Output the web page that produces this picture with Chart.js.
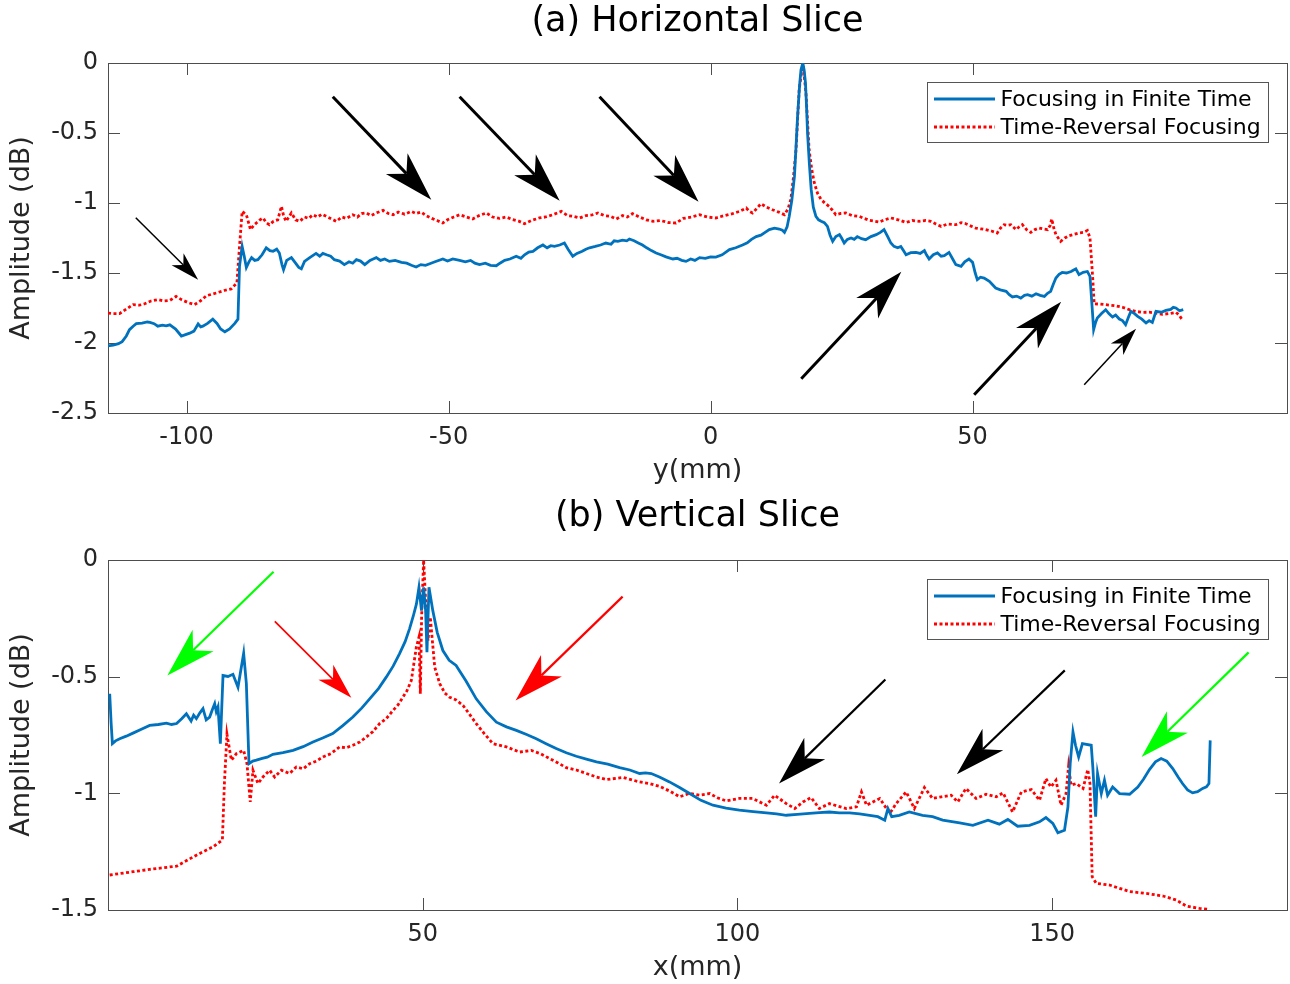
<!DOCTYPE html>
<html>
<head>
<meta charset="utf-8">
<title>Horizontal and vertical slices</title>
<script src="https://cdn.jsdelivr.net/npm/chart.js@4/dist/chart.umd.min.js"></script>
<style>
  html, body { margin: 0; padding: 0; background: #fff; overflow: hidden; }
  #wrap { position: relative; width: 1290px; height: 984px; }
  .panel { position: absolute; left: 0; width: 1290px; height: 492px; }
</style>
</head>
<body>
<div id="wrap">
  <div class="panel" style="top:0"><canvas id="hslice"></canvas></div>
  <div class="panel" style="top:492px"><canvas id="vslice"></canvas></div>
</div>
<script>
const FONT = "'DejaVu Sans', 'Liberation Sans', sans-serif";

const seriesNames = ['Focusing in Finite Time', 'Time-Reversal Focusing'];

// (a) horizontal slice, position y in mm
const hTicksX = [-100, -50, 0, 50];
const hTicksY = [-2.5, -2, -1.5, -1, -0.5, 0];

const hFiniteY = [-115, -114, -113, -112.3, -111.5, -110.9, -110.2, -109.6, -108.5, -107.5, -107, -106.2, -105.5, -104.6,
  -103.9, -103.2, -102.1, -101, -100.2, -99.4, -98.6, -97.8, -97.3, -96.9, -96, -95, -94.2, -93.5, -92.7, -91.8, -90.8,
  -90.2, -89.9, -89.4, -89, -88.6, -88.1, -87.6, -87, -86.4, -85.6, -84.8, -84.1, -83.5, -82.8, -82.3, -81.8, -81.5,
  -80.9, -80, -79.2, -78.6, -78.1, -77.5, -76.5, -75.3, -74.6, -74, -73.3, -72.5, -71.8, -70.8, -69.9, -69, -68.3, -67.6,
  -66.8, -66, -65, -64.4, -63.8, -63, -62.2, -61.3, -60.2, -59, -58, -57.1, -56.2, -55.3, -54.4, -53.6, -52.6, -51.1,
  -50.2, -49.2, -47.9, -46.8, -45.8, -45, -44.1, -43, -42, -40.9, -40.2, -39.3, -38.3, -37.1, -36.2, -35.5, -34.7,
  -33.9, -33, -32, -31.2, -30.5, -29.8, -28.8, -27.9, -27.2, -26.3, -25.5, -24.5, -23.8, -23.1, -22, -21, -20, -19,
  -18.4, -17.7, -16.8, -16, -15.5, -14.6, -13.8, -13, -12.2, -11.3, -10.4, -9.5, -8.5, -7.2, -6.4, -5.5, -4.7, -3.8,
  -3, -2.1, -1, 0, 1, 2.2, 3.6, 4.8, 6.1, 7, 7.8, 8.7, 9.6, 10.4, 11.2, 12.2, 13.1, 13.7, 14.1, 14.6, 15, 15.5, 16,
  16.3, 16.6, 17, 17.25, 17.6, 17.85, 18.1, 18.3, 18.5, 18.85, 19.2, 19.6, 20.1, 20.6, 21.1, 21.7, 22.3, 22.8, 23.3,
  23.9, 24.6, 25, 25.5, 26.1, 26.8, 27.4, 28, 28.8, 29.6, 30.6, 31.6, 32.4, 33.1, 33.8, 34.4, 35, 35.7, 36.3, 36.8,
  37.3, 38.2, 39.2, 40, 40.8, 41.2, 41.7, 42.5, 43.3, 44, 44.6, 45.5, 46.2, 46.8, 47.8, 48.5, 49.3, 50, 50.5, 50.9,
  51.5, 52.2, 53.2, 54.4, 55.3, 56.4, 57, 57.6, 58.4, 59.2, 59.9, 60.5, 61.3, 62.1, 62.9, 63.7, 64.3, 64.9, 65.4,
  65.9, 66.5, 67.1, 67.9, 68.8, 69.2, 69.7, 70.3, 71.1, 71.9, 72.4, 72.8, 73.1, 73.5, 73.8, 74.6, 75.4, 76, 76.7,
  77.3, 78, 78.6, 79.2, 79.7, 80.2, 80.9, 81.5, 82.3, 83.1, 83.7, 84.3, 85, 86, 86.9, 87.8, 88.3, 88.8, 89.5, 90.2];
const hFiniteAmp = [-2.02, -2.015, -2.005, -1.99, -1.95, -1.905, -1.88, -1.862, -1.858, -1.85, -1.853, -1.862, -1.88, -1.872,
  -1.878, -1.87, -1.9, -1.95, -1.94, -1.93, -1.915, -1.864, -1.885, -1.88, -1.86, -1.83, -1.86, -1.9, -1.92, -1.9, -1.86,
  -1.83, -1.45, -1.31, -1.38, -1.46, -1.42, -1.39, -1.41, -1.405, -1.37, -1.32, -1.34, -1.345, -1.33, -1.357, -1.44, -1.476,
  -1.41, -1.39, -1.43, -1.46, -1.47, -1.417, -1.39, -1.36, -1.38, -1.36, -1.37, -1.38, -1.405, -1.415, -1.44, -1.42, -1.43, -1.405,
  -1.415, -1.44, -1.41, -1.4, -1.39, -1.41, -1.4, -1.417, -1.41, -1.424, -1.43, -1.445, -1.457, -1.44, -1.445, -1.434, -1.42, -1.4,
  -1.415, -1.4, -1.41, -1.42, -1.41, -1.43, -1.44, -1.43, -1.445, -1.448, -1.43, -1.41, -1.4, -1.38, -1.395, -1.37, -1.35,
  -1.345, -1.32, -1.3, -1.32, -1.305, -1.31, -1.3, -1.286, -1.33, -1.38, -1.36, -1.345, -1.33, -1.32, -1.31, -1.3, -1.286, -1.295,
  -1.27, -1.274, -1.265, -1.27, -1.257, -1.27, -1.285, -1.3, -1.32, -1.34, -1.357, -1.37, -1.385, -1.4, -1.395, -1.41, -1.417, -1.4,
  -1.41, -1.39, -1.395, -1.385, -1.386, -1.37, -1.333, -1.32, -1.3, -1.285, -1.26, -1.24, -1.23, -1.21, -1.19, -1.18, -1.186, -1.195, -1.21, -1.17, -1.096, -0.98, -0.81,
  -0.6, -0.38, -0.15, -0.048, 0, -0.05, -0.14, -0.3, -0.5, -0.72, -0.905, -1.03, -1.096, -1.12, -1.13, -1.14, -1.167, -1.23, -1.274,
  -1.24, -1.226, -1.25, -1.286, -1.26, -1.25, -1.26, -1.24, -1.255, -1.262, -1.24, -1.226, -1.21, -1.19, -1.24, -1.286, -1.31, -1.32, -1.31, -1.34,
  -1.37, -1.355, -1.353, -1.36, -1.34, -1.37, -1.4, -1.37, -1.357, -1.38, -1.376, -1.353, -1.4, -1.44, -1.453, -1.42, -1.4, -1.424, -1.5, -1.548,
  -1.53, -1.536, -1.56, -1.607, -1.62, -1.631, -1.655, -1.671, -1.665, -1.679, -1.66, -1.655, -1.665, -1.648, -1.66, -1.667, -1.645, -1.631, -1.58,
  -1.536, -1.51, -1.496, -1.5, -1.489, -1.48, -1.471, -1.512, -1.495, -1.489, -1.524, -1.739, -1.905, -1.85, -1.821, -1.79, -1.762, -1.79, -1.814,
  -1.8, -1.829, -1.84, -1.869, -1.82, -1.774, -1.79, -1.81, -1.83, -1.857, -1.84, -1.853, -1.774, -1.78, -1.767, -1.76, -1.745, -1.75, -1.77, -1.762];

const hReversalY = [-115, -114, -112.8, -111.6, -110.2, -109, -108, -106.8, -105.5, -104.3, -103.2, -102, -101, -99.8, -98.5,
  -97.4, -96.2, -95, -94, -92.8, -91.5, -90.4, -89.9, -89.4, -88.6, -87.8, -87.2, -86.7, -86, -85.4, -84.8, -84.2, -83.4,
  -82.6, -81.9, -81.5, -81, -80.5, -80, -79.2, -78.4, -77.5, -76.7, -75.9, -75, -74.2, -73.3, -72.3, -71.4, -70.4, -69.5,
  -68.3, -67.4, -66.6, -65.7, -64.8, -63.7, -62.5, -61.5, -60.6, -59.6, -58.4, -57.1, -56.2, -55.2, -54.3, -53.2, -52.2,
  -51.1, -50.2, -49, -47.9, -46.6, -45.4, -44.2, -42.8, -41.6, -40.3, -39, -37.8, -36.6, -35.5, -34.2, -32.7, -31.5,
  -30.2, -28.5, -27.3, -26.2, -25, -23.8, -22.6, -21.5, -20.3, -19.1, -18, -16.8, -15.9, -14.9, -13.6, -12.3, -11, -9.6,
  -8, -6.6, -5.2, -3.6, -2.1, -0.6, 1, 2.6, 4.2, 5.5, 6.8, 7.4, 8, 8.8, 9.6, 10.7, 11.8, 13, 14.1, 14.8, 15.3, 15.8,
  16.3, 16.9, 17.6, 18.2, 18.8, 19.3, 19.8, 20.4, 21.1, 21.8, 22.6, 23.2, 23.9, 24.8, 25.8, 27, 28.4, 29.3, 30.3, 31.2,
  32.2, 33.2, 34.4, 35.8, 37.3, 38.5, 39.8, 41, 42, 43, 44, 45.3, 46.8, 47.8, 48.7, 49.7, 50.6, 51.6, 52.5, 53.6, 54.7,
  55.3, 56, 56.7, 57.3, 58.3, 58.9, 59.5, 60.3, 61.1, 61.9, 62.7, 63.5, 64.3, 64.8, 65.1, 65.5, 65.9, 66.8, 67.6, 68.4,
  69.3, 70.3, 71.1, 71.9, 72.4, 72.9, 73.2, 74.3, 75.4, 76.3, 77.3, 78.6, 79.9, 81.2, 82.4, 83.7, 85, 86.2, 87.5, 88.8,
  89.4, 89.9];
const hReversalAmp = [-1.786, -1.79, -1.79, -1.76, -1.726, -1.73, -1.72, -1.7, -1.69, -1.7, -1.696, -1.667, -1.69, -1.71, -1.726,
  -1.7, -1.662, -1.65, -1.639, -1.625, -1.614, -1.571, -1.31, -1.06, -1.084, -1.19, -1.16, -1.143, -1.12, -1.107, -1.14, -1.155, -1.13,
  -1.12, -1.024, -1.09, -1.131, -1.1, -1.071, -1.12, -1.131, -1.1, -1.11, -1.084, -1.1, -1.08, -1.096, -1.115, -1.131, -1.1, -1.11,
  -1.084, -1.1, -1.075, -1.071, -1.09, -1.07, -1.053, -1.075, -1.084, -1.065, -1.08, -1.06, -1.075, -1.065, -1.09, -1.11, -1.125,
  -1.143, -1.12, -1.1, -1.084, -1.1, -1.114, -1.09, -1.071, -1.1, -1.11, -1.1, -1.119, -1.13, -1.148, -1.125, -1.107, -1.1,
  -1.085, -1.06, -1.09, -1.095, -1.107, -1.09, -1.085, -1.071, -1.09, -1.095, -1.114, -1.09, -1.1, -1.076, -1.1, -1.12, -1.131, -1.125,
  -1.14, -1.143, -1.11, -1.1, -1.084, -1.1, -1.107, -1.09, -1.076, -1.06, -1.036, -1.06, -1.071, -1.04, -1.005, -1.03, -1.048, -1.065, -1.084, -1.04, -0.976, -0.82,
  -0.62, -0.19, 0, -0.214, -0.62, -0.76, -0.857, -0.93, -0.976, -1.0, -1.024, -1.05, -1.084, -1.075, -1.071, -1.09, -1.096, -1.11, -1.124, -1.13,
  -1.137, -1.12, -1.107, -1.12, -1.139, -1.125, -1.131, -1.125, -1.131, -1.15, -1.167, -1.15, -1.155, -1.14, -1.148, -1.165, -1.179, -1.185, -1.19, -1.2, -1.214,
  -1.18, -1.155, -1.16, -1.155, -1.19, -1.17, -1.155, -1.19, -1.21, -1.19, -1.179, -1.185, -1.19, -1.16, -1.114, -1.18, -1.226, -1.274, -1.25, -1.234,
  -1.225, -1.214, -1.21, -1.196, -1.25, -1.524, -1.72, -1.722, -1.726, -1.73, -1.734, -1.745, -1.762, -1.775, -1.781, -1.78, -1.786, -1.795, -1.79, -1.781,
  -1.8, -1.829];

// (b) vertical slice, position x in mm
const vTicksX = [50, 100, 150];
const vTicksY = [-1.5, -1, -0.5, 0];

const vFiniteX = [0.27, 0.5, 0.7, 1.2, 1.86, 2.9, 3.97, 5.3, 6.62, 8, 9.28, 10.1, 10.9, 11.7, 12.45, 13.2, 13.6, 14.04, 14.6,
  15.09, 15.6, 16.15, 16.6, 16.95, 17.2, 17.47, 17.85, 18.27, 19.06, 19.85, 20.65, 21.55, 21.98, 22.4, 23, 23.57, 24.5,
  25.3, 26.2, 27.8, 29.4, 31, 32.56, 34.1, 35.7, 37.3, 38.9, 40.3, 41.57, 43, 44.2, 45.3, 46.3, 47.2, 47.9, 48.5, 49,
  49.4, 49.8, 50.14, 50.46, 50.67, 50.99, 51.6, 52.3, 53.2, 54.2, 55.3, 56.9, 58.5, 60.1, 61.7, 63.3, 64.87, 66.5, 68.04,
  69.6, 71.2, 72.8, 74.4, 76, 77.6, 79.4, 81.27, 82.9, 84.45, 85.4, 86.3, 87.6, 89.2, 90.8, 92.4, 94.2, 96.1, 98.2,
  100.3, 102.5, 104.6, 106.2, 107.75, 109.5, 111.45, 113, 114.6, 116.2, 117.8, 119.4, 121, 122.3, 123.4, 123.9, 124.5,
  125.7, 127.3, 129.4, 131, 132.6, 135.3, 137.4, 139.8, 141.6, 142.95, 144.5, 146.4, 147.98, 149, 150.1, 150.9, 151.95,
  152.5, 152.86, 153.3, 153.7, 154.2, 154.8, 156.2, 156.45, 156.9, 157.2, 157.8, 158.3, 158.8, 159.6, 160.7, 162.3,
  163.6, 164.5, 165.45, 166.4, 167.3, 168.2, 169.15, 170, 170.7, 171.5, 172.3, 173.1, 173.9, 174.5, 174.9, 175.1];
const vFiniteAmp = [-0.573, -0.7, -0.787, -0.775, -0.766, -0.755, -0.742, -0.725, -0.709, -0.705, -0.699, -0.705, -0.701, -0.68,
  -0.659, -0.69, -0.665, -0.68, -0.655, -0.637, -0.685, -0.673, -0.64, -0.616, -0.65, -0.63, -0.787, -0.495, -0.499, -0.49,
  -0.545, -0.4, -0.53, -0.873, -0.862, -0.858, -0.85, -0.845, -0.833, -0.826, -0.816, -0.8, -0.78, -0.763, -0.744, -0.71, -0.673,
  -0.635, -0.595, -0.55, -0.502, -0.455, -0.402, -0.35, -0.295, -0.24, -0.188, -0.117, -0.217, -0.117, -0.217, -0.395, -0.117,
  -0.217, -0.31, -0.388, -0.43, -0.452, -0.52, -0.595, -0.65, -0.695, -0.715, -0.73, -0.748, -0.766, -0.787, -0.808, -0.826,
  -0.841, -0.853, -0.865, -0.875, -0.89, -0.9, -0.915, -0.912, -0.915, -0.93, -0.951, -0.975, -1.001, -1.03, -1.051, -1.063,
  -1.072, -1.078, -1.084, -1.088, -1.094, -1.09, -1.086, -1.083, -1.08, -1.084, -1.084, -1.088, -1.094, -1.1, -1.115, -1.065, -1.1,
  -1.094, -1.08, -1.094, -1.1, -1.115, -1.127, -1.137, -1.115, -1.132, -1.112, -1.141, -1.137, -1.122, -1.104, -1.129, -1.169, -1.158,
  -1.058, -0.873, -0.737, -0.794, -0.844, -0.787, -0.794, -0.887, -1.1, -0.915, -1.001, -0.944, -1.008, -0.973, -1.001, -1.004,
  -0.973, -0.94, -0.898, -0.865, -0.851, -0.862, -0.894, -0.93, -0.958, -0.985, -0.998, -0.993, -0.979, -0.972, -0.958, -0.773];

const vReversalX = [0.27, 3.97, 6.62, 10.9, 14.04, 16.68, 18.17, 18.49, 18.9, 19.6, 20.39, 21.55, 22.08, 22.6, 23.03, 23.82,
  24.62, 25.68, 26.48, 27.54, 28.86, 29.92, 31, 32.04, 33.1, 34.15, 35.4, 36.8, 37.8, 38.9, 40, 41.04, 42.1, 43.15, 44.2,
  45.27, 46.1, 46.85, 47.5, 48.19, 48.98, 49.4, 49.62, 49.82, 50.14, 50.46, 50.83, 51.2, 51.9, 52.7, 53.5, 54.27, 55.3,
  56.4, 57.4, 58.5, 59.8, 61.15, 63.3, 65.4, 67.25, 68.7, 70.15, 71.5, 72.8, 74.4, 76, 77.6, 79.16, 81.8, 84.45, 86, 87.6,
  89.2, 90.8, 92.4, 94, 95.6, 96.9, 98.2, 100.3, 102.4, 104.6, 105.9, 107.75, 109.1, 110.4, 111.7, 113, 114.6, 116, 117.3,
  118.9, 119.7, 120.5, 122.6, 124.2, 125.2, 126.8, 128.1, 129.7, 131, 132.4, 133.95, 135, 136.3, 137.9, 139.5, 141.1,
  142.2, 143.7, 145.1, 146.7, 147.98, 149, 149.8, 150.6, 151.4, 152.2, 152.6, 153, 153.8, 154.9, 155.65, 156, 156.35,
  157, 159.1, 160.7, 162.3, 164.9, 167.6, 169.7, 171.3, 173.4, 175];
const vReversalAmp = [-1.35, -1.336, -1.326, -1.312, -1.265, -1.229, -1.2, -0.958, -0.747, -0.858, -0.83, -0.816, -0.873, -1.037,
  -0.901, -0.958, -0.93, -0.901, -0.93, -0.901, -0.915, -0.887, -0.895, -0.873, -0.862, -0.844, -0.83, -0.801, -0.805, -0.794,
  -0.78, -0.759, -0.735, -0.701, -0.68, -0.645, -0.62, -0.588, -0.56, -0.516, -0.374, -0.331, -0.573, -0.245, 0, -0.174, -0.345,
  -0.245, -0.459, -0.53, -0.57, -0.588, -0.6, -0.623, -0.66, -0.701, -0.745, -0.787, -0.801, -0.823, -0.816, -0.83, -0.851,
  -0.87, -0.89, -0.9, -0.915, -0.93, -0.941, -0.932, -0.951, -0.958, -0.97, -0.99, -1.015, -1.0, -1.008, -1.001, -1.02, -1.032,
  -1.022, -1.022, -1.051, -1.008, -1.044, -1.065, -1.037, -1.018, -1.065, -1.044, -1.055, -1.065, -1.058, -0.994, -1.051, -1.022,
  -1.086, -1.044, -0.994, -1.065, -0.975, -1.022, -1.015, -1.008, -1.037, -0.979, -1.022, -1.004, -1.015, -0.998, -1.08, -0.994,
  -0.984, -1.03, -0.937, -0.973, -0.944, -1.051, -1.001, -0.884, -0.965, -0.958, -0.979, -0.898, -0.958, -1.357, -1.386, -1.393,
  -1.407, -1.421, -1.429, -1.44, -1.457, -1.483, -1.493, -1.497];

// annotation arrows, tail and tip in axis units; head = [length, width] in px
const hArrows = [
  { from: [-109.7, -1.105], to: [-97.8, -1.548], color: '#000', lw: 1.5, head: [29, 17] },
  { from: [-72.1, -0.241], to: [-53.3, -0.976], color: '#000', lw: 3, head: [50, 30] },
  { from: [-47.9, -0.241], to: [-28.8, -0.984], color: '#000', lw: 3, head: [50, 30] },
  { from: [-21.2, -0.241], to: [-2.3, -0.991], color: '#000', lw: 3, head: [50, 30] },
  { from: [17.3, -2.255], to: [36.4, -1.491], color: '#000', lw: 3, head: [50, 30] },
  { from: [50.3, -2.369], to: [66.9, -1.705], color: '#000', lw: 3, head: [50, 30] },
  { from: [71.3, -2.298], to: [81.2, -1.898], color: '#000', lw: 1.5, head: [28, 17] }
];
const vArrows = [
  { from: [26.3, -0.05], to: [9.43, -0.495], color: '#00FF00', lw: 2.2, head: [50, 30] },
  { from: [26.5, -0.263], to: [38.66, -0.59], color: '#FF0000', lw: 1.7, head: [36, 21] },
  { from: [81.75, -0.157], to: [64.75, -0.602], color: '#FF0000', lw: 2.2, head: [50, 30] },
  { from: [123.5, -0.512], to: [106.6, -0.958], color: '#000', lw: 2.2, head: [50, 30] },
  { from: [152, -0.473], to: [134.85, -0.918], color: '#000', lw: 2.2, head: [50, 30] },
  { from: [181.2, -0.396], to: [164.2, -0.844], color: '#00FF00', lw: 2.2, head: [50, 30] }
];

function pts(xs, ys) {
  return xs.map((x, i) => ({ x: x, y: ys[i] }));
}

// box with inward ticks on all four sides
const frameTicks = {
  id: 'frameTicks',
  beforeDatasetsDraw(chart) {
    const { ctx, chartArea: a, scales: { x, y } } = chart;
    const tl = 12;
    ctx.save();
    ctx.strokeStyle = '#4d4d4d';
    ctx.lineWidth = 1;
    ctx.beginPath();
    x.ticks.forEach(t => {
      const p = Math.round(x.getPixelForValue(t.value)) + 0.5;
      ctx.moveTo(p, a.bottom); ctx.lineTo(p, a.bottom - tl);
      ctx.moveTo(p, a.top); ctx.lineTo(p, a.top + tl);
    });
    y.ticks.forEach(t => {
      const p = Math.round(y.getPixelForValue(t.value)) + 0.5;
      ctx.moveTo(a.left, p); ctx.lineTo(a.left + tl, p);
      ctx.moveTo(a.right, p); ctx.lineTo(a.right - tl, p);
    });
    ctx.stroke();
    ctx.strokeRect(Math.round(a.left) + 0.5, Math.round(a.top) + 0.5,
      Math.round(a.right - a.left), Math.round(a.bottom - a.top));
    ctx.restore();
  }
};

// arrows with a notched head
const arrows = {
  id: 'arrows',
  afterDatasetsDraw(chart, args, opts) {
    const { ctx, scales: { x, y } } = chart;
    ctx.save();
    (opts.list || []).forEach(a => {
      const x0 = x.getPixelForValue(a.from[0]), y0 = y.getPixelForValue(a.from[1]);
      const x1 = x.getPixelForValue(a.to[0]), y1 = y.getPixelForValue(a.to[1]);
      const len = Math.hypot(x1 - x0, y1 - y0);
      const ux = (x1 - x0) / len, uy = (y1 - y0) / len;
      const nx = -uy, ny = ux;
      const L = a.head[0], W = a.head[1] / 2;
      const bx = x1 - ux * L, by = y1 - uy * L;
      const kx = x1 - ux * L * 0.72, ky = y1 - uy * L * 0.72;
      ctx.strokeStyle = a.color;
      ctx.fillStyle = a.color;
      ctx.lineWidth = a.lw;
      ctx.beginPath();
      ctx.moveTo(x0, y0);
      ctx.lineTo(kx, ky);
      ctx.stroke();
      ctx.beginPath();
      ctx.moveTo(x1, y1);
      ctx.lineTo(bx + nx * W, by + ny * W);
      ctx.lineTo(kx, ky);
      ctx.lineTo(bx - nx * W, by - ny * W);
      ctx.closePath();
      ctx.fill();
    });
    ctx.restore();
  }
};

// MATLAB style legend box in the top right corner
const boxLegend = {
  id: 'boxLegend',
  afterDraw(chart) {
    const { ctx, chartArea: a } = chart;
    const sets = chart.data.datasets;
    ctx.save();
    ctx.font = '22px ' + FONT;
    const tw = Math.max(...sets.map(d => ctx.measureText(d.label).width));
    const w = Math.round(74 + tw + 7), h = 60;
    const left = Math.round(a.right - 19 - w), top = Math.round(a.top + 19);
    ctx.fillStyle = '#fff';
    ctx.fillRect(left, top, w, h);
    ctx.strokeStyle = '#555';
    ctx.lineWidth = 1;
    ctx.strokeRect(left + 0.5, top + 0.5, w, h);
    sets.forEach((d, i) => {
      const cy = top + 17 + i * 28;
      ctx.strokeStyle = d.borderColor;
      ctx.lineWidth = d.borderWidth;
      ctx.setLineDash(d.borderDash || []);
      ctx.beginPath();
      ctx.moveTo(left + 7, cy);
      ctx.lineTo(left + 68, cy);
      ctx.stroke();
      ctx.setLineDash([]);
      ctx.fillStyle = '#000';
      ctx.textBaseline = 'middle';
      ctx.fillText(d.label, left + 73.5, cy + 1);
    });
    ctx.restore();
  }
};

function sliceChart(id, o) {
  return new Chart(document.getElementById(id), {
    type: 'line',
    data: {
      datasets: [
        { label: seriesNames[0], data: pts(o.fx, o.fy), borderColor: '#0072BD', borderWidth: 2.8,
          pointRadius: 0, tension: 0, fill: false },
        { label: seriesNames[1], data: pts(o.rx, o.ry), borderColor: '#FF0000', borderWidth: 2.8,
          borderDash: [3, 2.5], pointRadius: 0, tension: 0, fill: false }
      ]
    },
    options: {
      responsive: true,
      maintainAspectRatio: false,
      animation: false,
      events: [],
      layout: { padding: { left: 0, right: 3, top: 0, bottom: 0 } },
      plugins: {
        legend: { display: false },
        tooltip: { enabled: false },
        title: {
          display: true, text: o.title, color: '#000', fullSize: false,
          font: { family: FONT, size: 35, weight: 'normal' },
          padding: o.titlePad
        },
        arrows: { list: o.arrows }
      },
      scales: {
        x: {
          type: 'linear', min: o.xmin, max: o.xmax,
          grid: { display: false, drawTicks: false },
          border: { display: false },
          ticks: { color: '#262626', font: { family: FONT, size: 24 }, padding: 10, maxRotation: 0,
                   callback: v => String(v) },
          afterBuildTicks: s => { s.ticks = o.xticks.map(v => ({ value: v })); },
          afterFit: s => { s.height = o.xAxisH; },
          title: {
            display: true, text: o.xlabel, color: '#262626',
            font: { family: FONT, size: 27 }, padding: { top: 0, bottom: o.xTitlePad }
          }
        },
        y: {
          type: 'linear', min: o.ymin, max: 0,
          grid: { display: false, drawTicks: false },
          border: { display: false },
          ticks: { color: '#262626', font: { family: FONT, size: 24 }, padding: 10,
                   callback: v => String(v) },
          afterBuildTicks: s => { s.ticks = o.yticks.map(v => ({ value: v })); },
          afterFit: s => { s.width = 108; },
          title: {
            display: true, text: 'Amplitude (dB)', color: '#262626',
            font: { family: FONT, size: 27 }, padding: { top: 5.5, bottom: 0 }
          }
        }
      }
    },
    plugins: [frameTicks, arrows, boxLegend]
  });
}

sliceChart('hslice', {
  title: '(a) Horizontal Slice', titlePad: { top: 1, bottom: 20 },
  fx: hFiniteY, fy: hFiniteAmp, rx: hReversalY, ry: hReversalAmp,
  xmin: -115, xmax: 110, xticks: hTicksX, xlabel: 'y(mm)', xAxisH: 79, xTitlePad: 5,
  ymin: -2.5, yticks: hTicksY, arrows: hArrows
});

sliceChart('vslice', {
  title: '(b) Vertical Slice', titlePad: { top: 4, bottom: 22 },
  fx: vFiniteX, fy: vFiniteAmp, rx: vReversalX, ry: vReversalAmp,
  xmin: 0, xmax: 187.3, xticks: vTicksX, xlabel: 'x(mm)', xAxisH: 74, xTitlePad: 0,
  ymin: -1.5, yticks: vTicksY, arrows: vArrows
});
</script>
</body>
</html>
